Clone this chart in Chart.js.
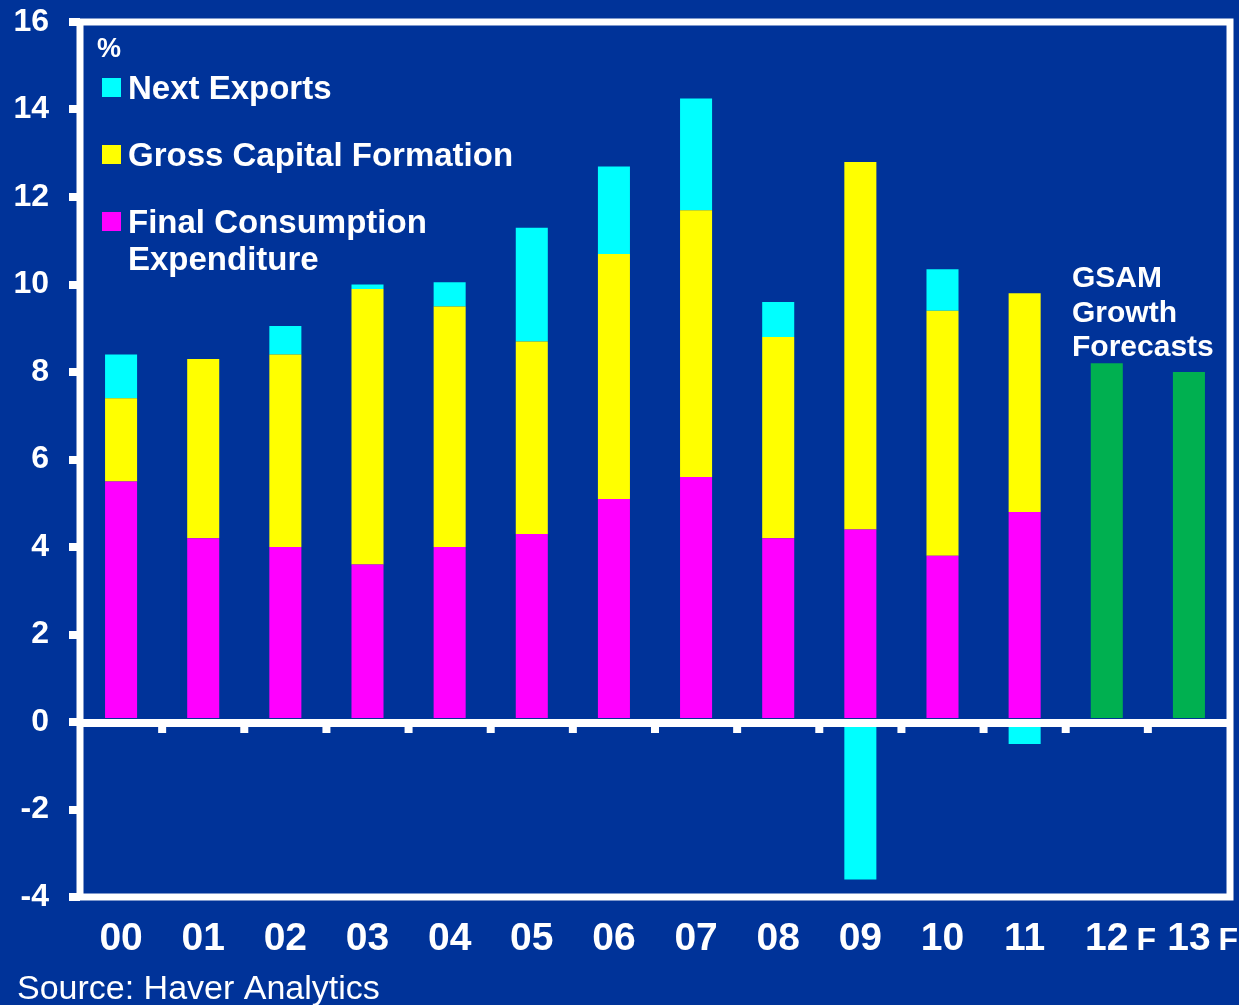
<!DOCTYPE html>
<html>
<head>
<meta charset="utf-8">
<script src="https://cdn.jsdelivr.net/npm/chart.js@4"></script>
<style>
html,body{margin:0;padding:0;background:#003399;}
#wrap{width:1239px;height:1005px;}
</style>
</head>
<body>
<div id="wrap"><canvas id="c" width="1239" height="1005"></canvas></div>
<script>
const categories = ["00","01","02","03","04","05","06","07","08","09","10","11","12","13"];
const forecastFlags = ["","","","","","","","","","","","","F","F"];
const consumption = [5.5,4.2,4.0,3.6,4.0,4.3,5.1,5.6,4.2,4.4,3.8,4.8,null,null];
const capital =     [1.9,4.1,4.4,6.3,5.5,4.4,5.6,6.1,4.6,8.4,5.6,5.0,null,null];
const netExports =  [1.0,null,0.65,0.1,0.55,2.6,2.0,2.55,0.8,-3.6,0.95,-0.5,null,null];
const forecast =    [null,null,null,null,null,null,null,null,null,null,null,null,8.2,8.0];
const yTicks = [-4,-2,0,2,4,6,8,10,12,14,16];
const legendItems = [
  {label:["Next Exports"], color:"#00FFFF"},
  {label:["Gross Capital Formation"], color:"#FFFF00"},
  {label:["Final Consumption","Expenditure"], color:"#FF00FF"}
];
const forecastNote = ["GSAM","Growth","Forecasts"];
const sourceText = "Source: Haver Analytics";

const FONT = '"Liberation Sans", Arial, sans-serif';

const decor = {
  id:'decor',
  afterDatasetsDraw(chart){
    const ctx = chart.ctx, a = chart.chartArea;
    const x = chart.scales.x, y = chart.scales.y;
    ctx.save();
    ctx.fillStyle = '#FFFFFF';
    ctx.strokeStyle = '#FFFFFF';
    // zero line
    const y0 = y.getPixelForValue(0);
    ctx.fillRect(a.left, y0-3, a.right-a.left, 8);
    // boundary ticks below zero line
    const n = categories.length;
    const cw = (a.right-a.left)/n;
    for(let i=1;i<n;i++){
      const bx = a.left + cw*i;
      ctx.fillRect(bx-4, y0+5, 8, 6);
    }
    // border
    ctx.lineWidth = 7;
    ctx.strokeRect(a.left, a.top, a.right-a.left, a.bottom-a.top);
    // legend
    ctx.textAlign = 'left';
    ctx.textBaseline = 'alphabetic';
    ctx.font = 'bold 27px ' + FONT;
    ctx.fillText('%', 97, 57);
    const baselines = [99,166,233];
    ctx.font = 'bold 33px ' + FONT;
    legendItems.forEach((it,i)=>{
      ctx.fillStyle = it.color;
      ctx.fillRect(102, baselines[i]-21, 19, 19);
      ctx.fillStyle = '#FFFFFF';
      it.label.forEach((t,j)=>ctx.fillText(t, 128, baselines[i] + j*37));
    });
    // forecast note
    ctx.font = 'bold 30px ' + FONT;
    forecastNote.forEach((t,j)=>ctx.fillText(t, 1072, 287 + j*34.5));
    // x labels
    categories.forEach((c,i)=>{
      const cx = x.getPixelForValue(i);
      ctx.font = 'bold 39px ' + FONT;
      ctx.textAlign = 'center';
      ctx.fillText(c, cx, 950);
      if(forecastFlags[i]){
        const w = ctx.measureText(c).width;
        ctx.font = 'bold 32px ' + FONT;
        ctx.textAlign = 'left';
        ctx.fillText(forecastFlags[i], cx + w/2 + 8, 950);
      }
    });
    // source
    ctx.textAlign = 'left';
    ctx.font = '34px ' + FONT;
    ctx.fillText(sourceText, 17, 999);
    ctx.restore();
  }
};

const common = {barPercentage:0.39, categoryPercentage:1.0, borderWidth:0, stack:'s'};
new Chart(document.getElementById('c'), {
  type:'bar',
  data:{
    labels:categories,
    datasets:[
      Object.assign({label:'Final Consumption Expenditure', data:consumption, backgroundColor:'#FF00FF'}, common),
      Object.assign({label:'Gross Capital Formation', data:capital, backgroundColor:'#FFFF00'}, common),
      Object.assign({label:'Next Exports', data:netExports, backgroundColor:'#00FFFF'}, common),
      Object.assign({label:'GSAM Growth Forecasts', data:forecast, backgroundColor:'#00B050'}, common)
    ]
  },
  options:{
    responsive:false,
    animation:false,
    layout:{padding:{top:22,right:9,left:0,bottom:0}},
    plugins:{legend:{display:false}, tooltip:{enabled:false}},
    scales:{
      x:{
        stacked:true,
        grid:{display:false},
        border:{display:false},
        ticks:{display:false},
        afterFit(s){ s.height = 108; s.paddingLeft = 0; s.paddingRight = 0; }
      },
      y:{
        stacked:true,
        min:-4, max:16,
        afterBuildTicks(s){ s.ticks = yTicks.map(v=>({value:v})); },
        grid:{drawOnChartArea:false, drawTicks:true, tickLength:11, lineWidth:8, color:'#FFFFFF'},
        border:{display:false},
        ticks:{color:'#FFFFFF', font:{family:FONT, size:32, weight:'bold'}, padding:20},
        afterFit(s){ s.width = 80; s.paddingTop = 0; s.paddingBottom = 0; }
      }
    }
  },
  plugins:[decor]
});
</script>
</body>
</html>
